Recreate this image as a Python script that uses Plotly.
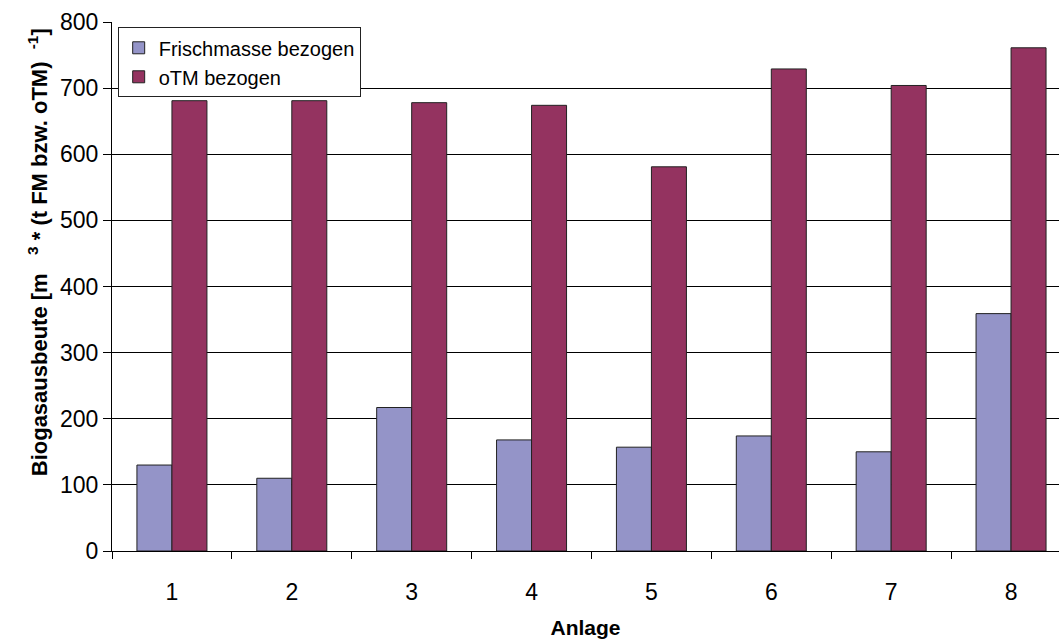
import plotly.graph_objects as go

# Biogas yield per plant, referenced to fresh mass and to organic dry matter
anlagen = ["1", "2", "3", "4", "5", "6", "7", "8"]
frischmasse = [130, 110, 217, 168, 157, 174, 150, 359]
otm = [681, 681, 678, 674, 581, 729, 704, 761]
y_ticks = [0, 100, 200, 300, 400, 500, 600, 700, 800]

FONT = "Liberation Sans, Arial, sans-serif"

fig = go.Figure()
fig.add_trace(go.Bar(
    x=anlagen, y=frischmasse, name="Frischmasse bezogen",
    marker=dict(color="#9494C8", line=dict(color="#222222", width=1)),
))
fig.add_trace(go.Bar(
    x=anlagen, y=otm, name="oTM bezogen",
    marker=dict(color="#943360", line=dict(color="#222222", width=1)),
))

# y-axis title as a rotated annotation so it can sit slightly above centre
fig.add_annotation(
    text="<b>Biogasausbeute [m&nbsp;&nbsp;&nbsp;<sup>3</sup> * (t FM bzw. oTM)&nbsp;&nbsp;<sup>-1</sup>]</b>",
    xref="paper", yref="paper", x=-0.078, y=0.565,
    xanchor="center", yanchor="middle", textangle=-90,
    showarrow=False, font=dict(size=22, family=FONT, color="#000000"),
)

fig.update_layout(
    width=1059, height=641,
    margin=dict(l=112, r=0, t=22, b=90),
    paper_bgcolor="white", plot_bgcolor="white",
    barmode="group", bargap=0.416, bargroupgap=0,
    font=dict(family=FONT, color="#000000"),
    showlegend=True,
    legend=dict(
        x=0.006, y=0.99, xanchor="left", yanchor="top",
        bgcolor="white", bordercolor="#222222", borderwidth=1,
        font=dict(size=20, family=FONT),
        tracegroupgap=0, itemwidth=30,
    ),
    xaxis=dict(
        type="category", range=[-0.5, 7.4],
        showline=True, linecolor="#000000", linewidth=1,
        ticks="outside", tickson="boundaries", ticklen=7,
        tickcolor="#000000", tickwidth=1,
        tickfont=dict(size=23, family=FONT),
        ticklabelstandoff=20,
        showgrid=False, zeroline=False,
        title=dict(text="<b>Anlage</b>", font=dict(size=21, family=FONT), standoff=16),
    ),
    yaxis=dict(
        range=[0, 800], tickvals=y_ticks,
        showline=True, linecolor="#000000", linewidth=1,
        ticks="outside", ticklen=8, tickcolor="#000000", tickwidth=1,
        tickfont=dict(size=23, family=FONT),
        showgrid=True, gridcolor="#000000", gridwidth=1,
        zeroline=False,
    ),
)

fig.write_html("out.html")
